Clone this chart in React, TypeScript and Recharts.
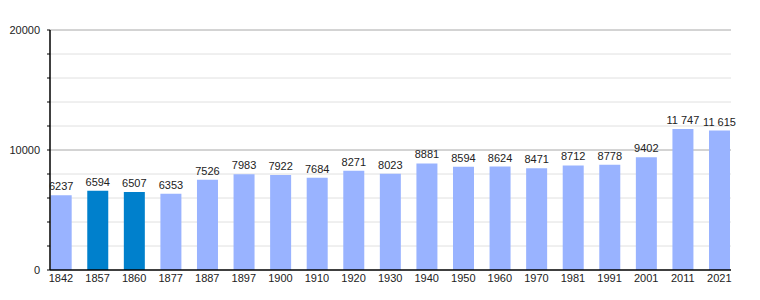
import React from 'react';
import { BarChart, Bar, XAxis, YAxis, CartesianGrid, LabelList, Cell } from 'recharts';

const years = ['1842', '1857', '1860', '1877', '1887', '1897', '1900', '1910', '1920', '1930', '1940', '1950', '1960', '1970', '1981', '1991', '2001', '2011', '2021'];
const population = [6237, 6594, 6507, 6353, 7526, 7983, 7922, 7684, 8271, 8023, 8881, 8594, 8624, 8471, 8712, 8778, 9402, 11747, 11615];
// years drawn in the darker blue
const highlighted = ['1857', '1860'];
const minorGrid = [2000, 4000, 6000, 8000, 12000, 14000, 16000, 18000];
const majorGrid = [10000, 20000];
const yTicks = [0, 2000, 4000, 6000, 8000, 10000, 12000, 14000, 16000, 18000, 20000];

const data = years.map((year, i) => ({ idx: i, year, value: population[i] }));

// 11747 -> "11 747" (no-break space so the label stays on one line)
const formatValue = (v: number) =>
  v >= 10000 ? String(v).replace(/\B(?=(\d{3})+(?!\d))/g, '\u00a0') : String(v);

const font = 'Liberation Sans, Arial, sans-serif';

export default function App() {
  return (
    <div style={{ position: 'absolute', left: 0, top: 0, background: '#fff', fontFamily: font }}>
      <BarChart width={760} height={300} data={data} margin={{ top: 30, right: 29, bottom: 0, left: 0 }}>
        <CartesianGrid vertical={false} stroke="#e0e0e0" horizontalValues={minorGrid} />
        <CartesianGrid vertical={false} stroke="#a8a8a8" horizontalValues={majorGrid} />
        <XAxis
          dataKey="idx"
          type="number"
          domain={[-0.3, 18.32]}
          ticks={data.map((d) => d.idx)}
          tickFormatter={(i) => years[i] ?? ''}
          interval={0}
          height={30}
          tickLine={false}
          tickSize={2}
          tickMargin={2}
          axisLine={{ stroke: '#000', strokeWidth: 1.5 }}
          tick={{ fill: '#222', fontSize: 11, fontFamily: font }}
          allowDataOverflow
        />
        <YAxis
          domain={[0, 20000]}
          ticks={yTicks}
          interval={0}
          width={50}
          tickSize={3}
          tickMargin={7}
          tickFormatter={(v) => (v % 10000 === 0 ? String(v) : '')}
          axisLine={{ stroke: '#000', strokeWidth: 1.5 }}
          tickLine={{ stroke: '#000' }}
          tick={{ fill: '#222', fontSize: 11, fontFamily: font }}
        />
        <Bar dataKey="value" barSize={21} isAnimationActive={false}>
          {data.map((d) => (
            <Cell key={d.year} fill={highlighted.includes(d.year) ? '#0080cc' : '#99b3ff'} />
          ))}
          <LabelList
            dataKey="value"
            position="top"
            offset={5}
            formatter={(v: any) => formatValue(Number(v))}
            style={{ fill: '#222', fontSize: 11, fontFamily: font }}
          />
        </Bar>
      </BarChart>
    </div>
  );
}
